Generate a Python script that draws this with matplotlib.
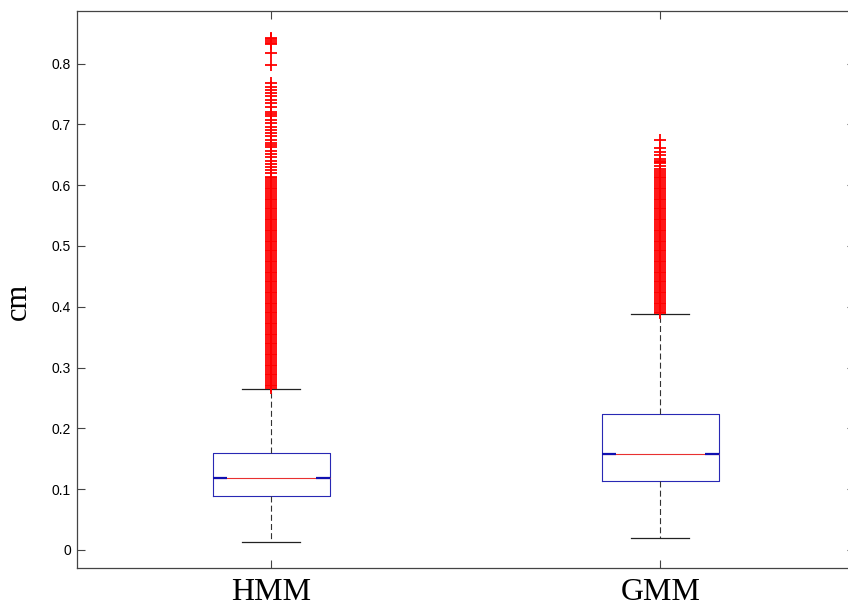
import matplotlib
matplotlib.use("Agg")
import matplotlib.pyplot as plt

categories = ["HMM", "GMM"]
q1 = [0.089, 0.113]
median = [0.118, 0.158]
q3 = [0.159, 0.223]
whis_lo = [0.013, 0.019]
whis_hi = [0.264, 0.388]

hmm_outliers = [
    0.266, 0.269, 0.272, 0.275, 0.278, 0.281, 0.284, 0.287, 0.290, 0.293, 0.296, 0.299,
    0.302, 0.305, 0.308, 0.311, 0.314, 0.317, 0.320, 0.323, 0.326, 0.329, 0.332, 0.335,
    0.338, 0.341, 0.344, 0.347, 0.350, 0.353, 0.356, 0.359, 0.362, 0.365, 0.368, 0.371,
    0.374, 0.377, 0.380, 0.383, 0.386, 0.389, 0.392, 0.395, 0.398, 0.401, 0.404, 0.407,
    0.410, 0.413, 0.416, 0.419, 0.422, 0.425, 0.428, 0.431, 0.434, 0.437, 0.440, 0.443,
    0.446, 0.449, 0.452, 0.455, 0.458, 0.461, 0.464, 0.467, 0.470, 0.473, 0.476, 0.479,
    0.482, 0.485, 0.488, 0.491, 0.494, 0.497, 0.500, 0.503, 0.506, 0.509, 0.512, 0.515,
    0.518, 0.521, 0.524, 0.527, 0.530, 0.533, 0.536, 0.539, 0.542, 0.545, 0.548, 0.551,
    0.554, 0.557, 0.560, 0.563, 0.566, 0.569, 0.572, 0.575, 0.578, 0.581, 0.584, 0.587,
    0.590, 0.593, 0.596, 0.599, 0.602, 0.605, 0.608, 0.611,
    0.614, 0.620, 0.625, 0.630, 0.635, 0.639, 0.646, 0.651, 0.657, 0.662, 0.666, 0.670,
    0.675, 0.681, 0.685, 0.691, 0.696, 0.702, 0.707, 0.713, 0.717, 0.721, 0.728, 0.735,
    0.740, 0.747, 0.752, 0.757, 0.762, 0.768,
    0.798, 0.818, 0.832, 0.834, 0.837, 0.840, 0.842,
]

gmm_outliers = [
    0.389, 0.392, 0.395, 0.398, 0.401, 0.404, 0.407, 0.410, 0.413, 0.416, 0.419, 0.422,
    0.425, 0.428, 0.431, 0.434, 0.437, 0.440, 0.443, 0.446, 0.449, 0.452, 0.455, 0.458,
    0.461, 0.464, 0.467, 0.470, 0.473, 0.476, 0.479, 0.482, 0.485, 0.488, 0.491, 0.494,
    0.497, 0.500, 0.503, 0.506, 0.509, 0.512, 0.515, 0.518, 0.521, 0.524, 0.527, 0.530,
    0.533, 0.536, 0.539, 0.542, 0.545, 0.548, 0.551, 0.554, 0.557, 0.560, 0.563, 0.566,
    0.569, 0.572, 0.575, 0.578, 0.581, 0.584, 0.587, 0.590, 0.593, 0.596, 0.599, 0.602,
    0.605, 0.608, 0.611, 0.614, 0.617, 0.620, 0.623,
    0.626, 0.632, 0.636, 0.638, 0.640, 0.643, 0.650, 0.655, 0.661, 0.674,
]
outliers = [hmm_outliers, gmm_outliers]

yticks = [0, 0.1, 0.2, 0.3, 0.4, 0.5, 0.6, 0.7, 0.8]
ytick_labels = ["0", "0.1", "0.2", "0.3", "0.4", "0.5", "0.6", "0.7", "0.8"]
ylabel = "cm"

plt.rcParams["lines.scale_dashes"] = False

fig = plt.figure(figsize=(8.48, 6.10), dpi=100)
ax = fig.add_axes([0.0904, 0.0689, 0.9176, 0.9131])

positions = [1, 2]
box_w = 0.30
stats = []
for i, name in enumerate(categories):
    stats.append(dict(label=name, med=median[i], q1=q1[i], q3=q3[i],
                      whislo=whis_lo[i], whishi=whis_hi[i], fliers=outliers[i]))

ax.bxp(stats, positions=positions, widths=box_w, capwidths=0.15,
       boxprops=dict(color="#2828b4", linewidth=0.8),
       medianprops=dict(color="#e83030", linewidth=0.8),
       whiskerprops=dict(color="#333333", linewidth=0.8, linestyle=(0, (4.3, 2.3))),
       capprops=dict(color="#222222", linewidth=0.9),
       flierprops=dict(marker="+", markeredgecolor="red", markersize=8.5,
                       markeredgewidth=1.3, linestyle="none"))

# blue ends of the median line
end_len = 0.036
for i, p in enumerate(positions):
    left = p - box_w / 2
    right = p + box_w / 2
    ax.plot([left, left + end_len], [median[i], median[i]], color="#1010b0", lw=1.6,
            solid_capstyle="butt", zorder=3)
    ax.plot([right - end_len, right], [median[i], median[i]], color="#1010b0", lw=1.6,
            solid_capstyle="butt", zorder=3)

ax.set_xlim(0.5, 2.5)
ax.set_ylim(-0.0296, 0.8865)
ax.set_yticks(yticks)
ax.set_yticklabels(ytick_labels, fontsize=10, family="Liberation Sans")
ax.set_xticks(positions)
ax.set_xticklabels(categories, fontsize=23, family="Liberation Serif")
ax.tick_params(axis="both", direction="in", length=6, width=0.8, color="#444444",
               top=True, right=True)
ax.tick_params(axis="y", pad=4)
ax.tick_params(axis="x", pad=7)
for s in ax.spines.values():
    s.set_color("#444444")
    s.set_linewidth(0.9)

ax.set_ylabel(ylabel, fontsize=22, family="Liberation Serif")
ax.yaxis.set_label_coords(-0.0565, 0.479)

fig.savefig("out.png", dpi=100)
